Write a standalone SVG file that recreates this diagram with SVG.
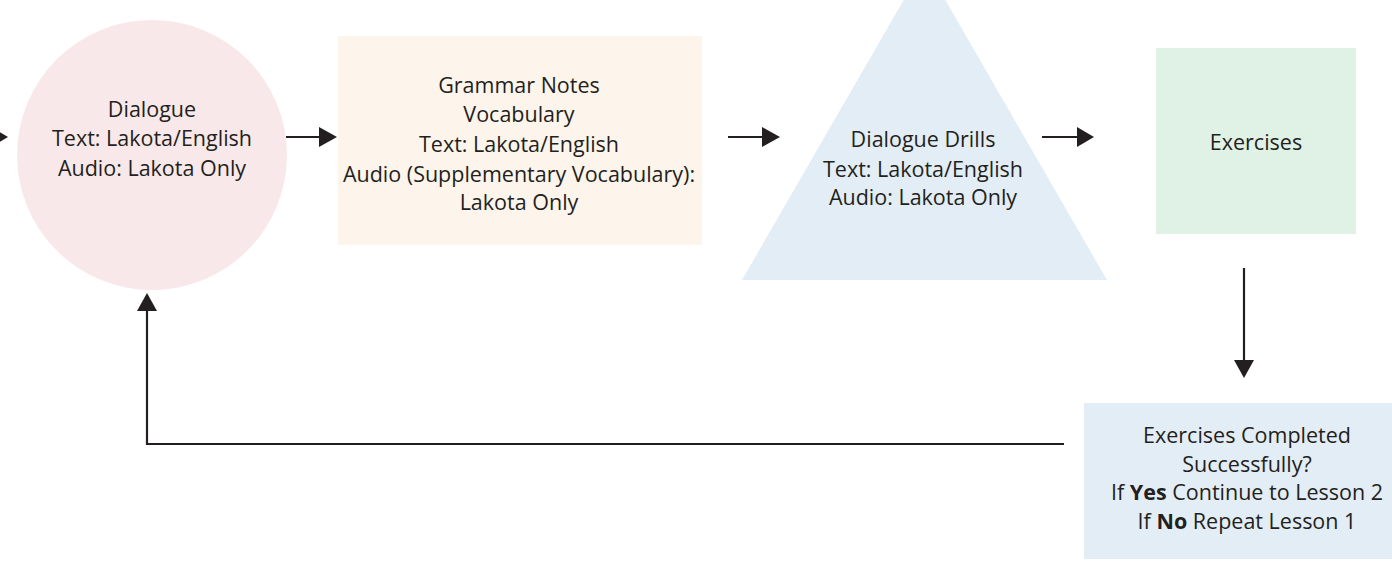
<svg xmlns="http://www.w3.org/2000/svg" width="1392" height="561" viewBox="0 0 1392 561">
<style>
text{font-family:"Open Sans","Liberation Sans",sans-serif;font-size:21.5px;fill:#231f20;text-anchor:middle}
.c{stroke:#231f20;stroke-width:2.2;fill:none}
.h{fill:#231f20}
</style>
<rect width="1392" height="561" fill="#fff"/>
<g id="dialogue">
<circle cx="152" cy="155" r="135" fill="#f9e8ea"/>
<text x="152" y="117">Dialogue</text>
<text x="152" y="146">Text: Lakota/English</text>
<text x="152" y="176">Audio: Lakota Only</text>
</g>
<g id="grammar">
<rect x="338" y="36" width="364" height="209" fill="#fdf5ec"/>
<text x="519" y="93">Grammar Notes</text>
<text x="519" y="122">Vocabulary</text>
<text x="519" y="152">Text: Lakota/English</text>
<text x="519" y="182">Audio (Supplementary Vocabulary):</text>
<text x="519" y="210">Lakota Only</text>
</g>
<g id="drills">
<polygon points="924.5,-36 1107,280 742,280" fill="#e3edf6"/>
<text x="923" y="147">Dialogue Drills</text>
<text x="923" y="177">Text: Lakota/English</text>
<text x="923" y="205">Audio: Lakota Only</text>
</g>
<g id="exercises">
<rect x="1156" y="48" width="200" height="186" fill="#e0f1e6"/>
<text x="1256" y="150">Exercises</text>
</g>
<g id="check">
<rect x="1084" y="403" width="320" height="156" fill="#e3edf6"/>
<text x="1247" y="443">Exercises Completed</text>
<text x="1247" y="472">Successfully?</text>
<text x="1247" y="500">If <tspan font-weight="bold">Yes</tspan> Continue to Lesson 2</text>
<text x="1247" y="529">If <tspan font-weight="bold">No</tspan> Repeat Lesson 1</text>
</g>
<g id="connectors">
<polygon class="h" points="-9,127 8,137 -9,147"/>
<line class="c" x1="286" y1="137" x2="321" y2="137"/>
<polygon class="h" points="319,127 337,137 319,147"/>
<line class="c" x1="728" y1="137" x2="764" y2="137"/>
<polygon class="h" points="762,127 780,137 762,147"/>
<line class="c" x1="1042" y1="137" x2="1079" y2="137"/>
<polygon class="h" points="1077,127 1094,137 1077,147"/>
<line class="c" x1="1244" y1="268" x2="1244" y2="362"/>
<polygon class="h" points="1234,360 1244,378 1254,360"/>
<polyline class="c" points="1064,444 147,444 147,309"/>
<polygon class="h" points="137,311 147,293 157,311"/>
</g>
</svg>
